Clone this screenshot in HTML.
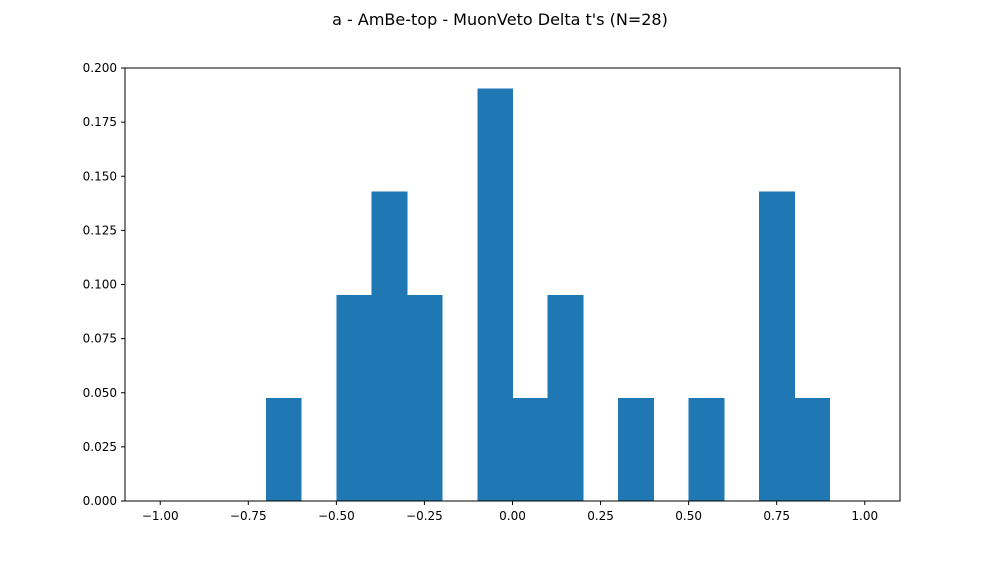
<!DOCTYPE html>
<html><head><meta charset="utf-8"><style>
body{margin:0;background:#fff;font-family:"Liberation Sans","DejaVu Sans",sans-serif;}
svg text{font-family:"DejaVu Sans","Liberation Sans",sans-serif;}
</style></head><body>
<svg id="chart" width="1000" height="563" xmlns="http://www.w3.org/2000/svg">
<rect width="1000" height="563" fill="#fff"/>
<text x="500" y="25" text-anchor="middle" font-size="16">a - AmBe-top - MuonVeto Delta t's (N=28)</text>
<g id="bars" shape-rendering="crispEdges"></g>
<g id="axes"></g>
</svg>
<script>
const binEdges = [-1.0,-0.9,-0.8,-0.7,-0.6,-0.5,-0.4,-0.3,-0.2,-0.1,0.0,0.1,0.2,0.3,0.4,0.5,0.6,0.7,0.8,0.9,1.0];
const densities = [0,0,0,0.0476,0,0.0952,0.1429,0.0952,0,0.1905,0.0476,0.0952,0,0.0476,0,0.0476,0,0.1429,0.0476,0];
const xTicks = [-1.0,-0.75,-0.5,-0.25,0,0.25,0.5,0.75,1.0];
const xTickLabels = ["−1.00","−0.75","−0.50","−0.25","0.00","0.25","0.50","0.75","1.00"];
const yTicks = [0,0.025,0.05,0.075,0.1,0.125,0.15,0.175,0.2];
const yTickLabels = ["0.000","0.025","0.050","0.075","0.100","0.125","0.150","0.175","0.200"];

const L=125,R=900,T=68,B=501;
const xMin=-1.1,xMax=1.1,yMin=0,yMax=0.2;
const xs=v=>L+(v-xMin)/(xMax-xMin)*(R-L);
const ys=v=>B-(v-yMin)/(yMax-yMin)*(B-T);
const NS="http://www.w3.org/2000/svg";
const bars=document.getElementById('bars'), axes=document.getElementById('axes');
function mk(tag,attrs,parent){const e=document.createElementNS(NS,tag);for(const k in attrs)e.setAttribute(k,attrs[k]);parent.appendChild(e);return e;}
densities.forEach((d,i)=>{
  if(d<=0)return;
  const x0=xs(binEdges[i]),x1=xs(binEdges[i+1]);
  const r=mk('rect',{x:x0,y:ys(d),width:x1-x0+0.5,height:B-ys(d),fill:'#1f77b4'},bars);
  
  
});
const frame=mk('rect',{x:L,y:T,width:R-L,height:B-T,fill:'none',stroke:'#000','stroke-width':1},axes);


xTicks.forEach((v,i)=>{
  const x=xs(v);
  mk('line',{x1:x,x2:x,y1:B,y2:B+4,stroke:'#000'},axes);
  const t=mk('text',{x:x,y:B+19,'text-anchor':'middle','font-size':12},axes);
  t.textContent=xTickLabels[i];
  
  
});
yTicks.forEach((v,i)=>{
  const y=ys(v);
  mk('line',{x1:L-4,x2:L,y1:y,y2:y,stroke:'#000'},axes);
  const t=mk('text',{x:L-8,y:y+4,'text-anchor':'end','font-size':12},axes);
  t.textContent=yTickLabels[i];
  
  
});
</script>
</body></html>
